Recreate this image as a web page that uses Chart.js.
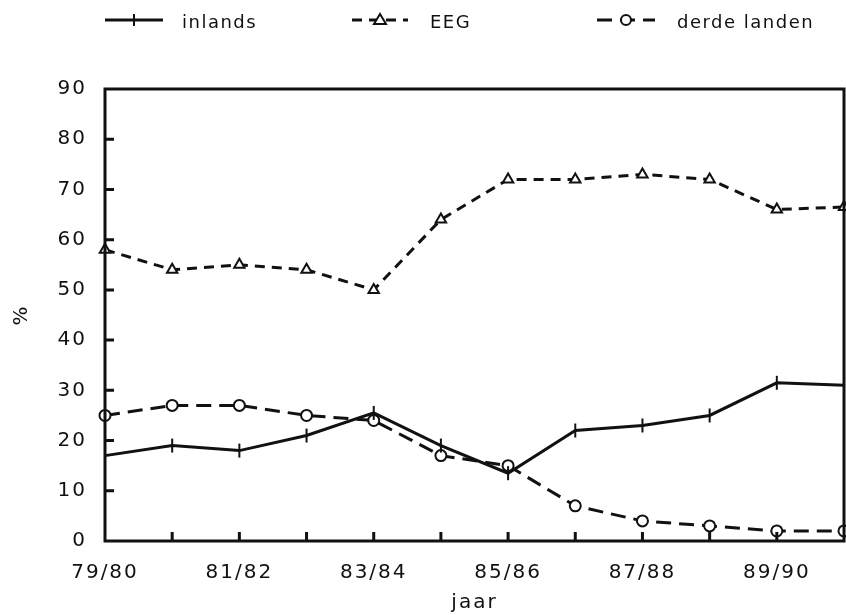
<!DOCTYPE html>
<html>
<head>
<meta charset="utf-8">
<script src="https://cdn.jsdelivr.net/npm/chart.js@4"></script>
<style>
  html, body { margin: 0; padding: 0; background: #fff; }
  #wrap { width: 846px; height: 615px; }
</style>
</head>
<body>
<div id="wrap"><canvas id="chart" width="846" height="615"></canvas></div>
<script>
const years = ['79/80','80/81','81/82','82/83','83/84','84/85','85/86','86/87','87/88','88/89','89/90','90/91'];
const inlands = [17, 19, 18, 21, 25.5, 19, 13.5, 22, 23, 25, 31.5, 31];
const eeg = [58, 54, 55, 54, 50, 64, 72, 72, 73, 72, 66, 66.5];
const derdeLanden = [25, 27, 27, 25, 24, 17, 15, 7, 4, 3, 2, 2];
const yTicks = [0, 10, 20, 30, 40, 50, 60, 70, 80, 90];

const ink = '#111';

// frame, inside ticks and the legend on top
const framePlugin = {
  id: 'frame',
  beforeDraw(chart) {
    chart.ctx.letterSpacing = '2px';
  },
  afterDatasetsDraw(chart) {
    const ctx = chart.ctx;
    const a = chart.chartArea;
    const xs = chart.scales.x, ys = chart.scales.y;
    ctx.save();
    ctx.strokeStyle = ink;
    ctx.lineWidth = 3;
    ctx.strokeRect(a.left, a.top, a.right - a.left, a.bottom - a.top);
    ctx.beginPath();
    yTicks.slice(1, -1).forEach(v => {
      const y = ys.getPixelForValue(v);
      ctx.moveTo(a.left, y);
      ctx.lineTo(a.left + 9, y);
    });
    years.forEach((lab, i) => {
      if (i == 0 || i == years.length - 1) return;
      const x = xs.getPixelForValue(i);
      ctx.moveTo(x, a.bottom);
      ctx.lineTo(x, a.bottom - 9);
    });
    ctx.stroke();
    ctx.restore();
  },
  afterDraw(chart) {
    const ctx = chart.ctx;
    const items = [
      { x0: 105, x1: 163, tx: 182, label: 'inlands', ds: 0 },
      { x0: 352, x1: 408, tx: 430, label: 'EEG', ds: 1 },
      { x0: 597, x1: 655, tx: 677, label: 'derde landen', ds: 2 }
    ];
    const y = 20;
    ctx.save();
    items.forEach(it => {
      const d = chart.data.datasets[it.ds];
      ctx.strokeStyle = ink;
      ctx.lineWidth = 3;
      ctx.setLineDash(d.borderDash || []);
      ctx.beginPath();
      ctx.moveTo(it.x0, y);
      ctx.lineTo(it.x1, y);
      ctx.stroke();
      ctx.setLineDash([]);
      const cx = (it.x0 + it.x1) / 2;
      ctx.lineWidth = 2;
      ctx.fillStyle = '#fff';
      ctx.beginPath();
      if (d.pointStyle == 'triangle') {
        ctx.moveTo(cx, y - 6);
        ctx.lineTo(cx + 6, y + 4);
        ctx.lineTo(cx - 6, y + 4);
        ctx.closePath();
        ctx.fill();
      } else if (d.pointStyle == 'circle') {
        ctx.arc(cx, y, 5, 0, Math.PI * 2);
        ctx.fill();
      } else {
        ctx.moveTo(cx, y - 6);
        ctx.lineTo(cx, y + 6);
      }
      ctx.stroke();
      ctx.fillStyle = ink;
      ctx.font = '18px "DejaVu Sans"';
      ctx.letterSpacing = '1.5px';
      ctx.textBaseline = 'middle';
      ctx.textAlign = 'left';
      ctx.fillText(it.label, it.tx, y + 3);
    });
    ctx.restore();
  }
};

const ctx = document.getElementById('chart');
new Chart(ctx, {
  type: 'line',
  data: {
    labels: years,
    datasets: [
      {
        label: 'inlands',
        data: inlands,
        borderColor: ink,
        borderWidth: 3,
        pointStyle: 'line',
        rotation: 90,
        pointRadius: 7,
        pointBorderWidth: 2,
        pointBorderColor: ink,
        tension: 0
      },
      {
        label: 'EEG',
        data: eeg,
        borderColor: ink,
        borderWidth: 3,
        borderDash: [10, 7],
        pointStyle: 'triangle',
        pointRadius: 6,
        pointBorderWidth: 2,
        pointBorderColor: ink,
        pointBackgroundColor: '#fff',
        tension: 0
      },
      {
        label: 'derde landen',
        data: derdeLanden,
        borderColor: ink,
        borderWidth: 3,
        borderDash: [15, 8],
        pointStyle: 'circle',
        pointRadius: 5.5,
        pointBorderWidth: 2,
        pointBorderColor: ink,
        pointBackgroundColor: '#fff',
        tension: 0
      }
    ]
  },
  options: {
    responsive: false,
    animation: false,
    layout: { autoPadding: false, padding: { top: 89, right: 2, left: 0, bottom: 0 } },
    plugins: {
      legend: { display: false },
      tooltip: { enabled: false }
    },
    scales: {
      x: {
        offset: false,
        grid: { display: false },
        border: { display: false },
        ticks: {
          color: ink,
          font: { family: 'DejaVu Sans', size: 20 },
          padding: 12,
          maxRotation: 0,
          autoSkip: false,
          callback: (v, i) => (i % 2 == 0 && i < years.length - 1) ? years[i] : ''
        },
        title: {
          display: true,
          text: 'jaar',
          color: ink,
          font: { family: 'DejaVu Sans', size: 20 },
          padding: { top: 2, bottom: 0 }
        },
        afterFit: s => { s.height = 74; s.paddingRight = 0; s.paddingLeft = 0; }
      },
      y: {
        min: 0,
        max: 90,
        grid: { display: false },
        border: { display: false },
        ticks: {
          stepSize: 10,
          color: ink,
          font: { family: 'DejaVu Sans', size: 20 },
          padding: 10
        },
        title: {
          display: true,
          text: '%',
          color: ink,
          font: { family: 'DejaVu Sans', size: 20 },
          padding: { top: 10, bottom: 0 }
        },
        afterFit: s => { s.width = 105; }
      }
    }
  },
  plugins: [framePlugin]
});
</script>
</body>
</html>
